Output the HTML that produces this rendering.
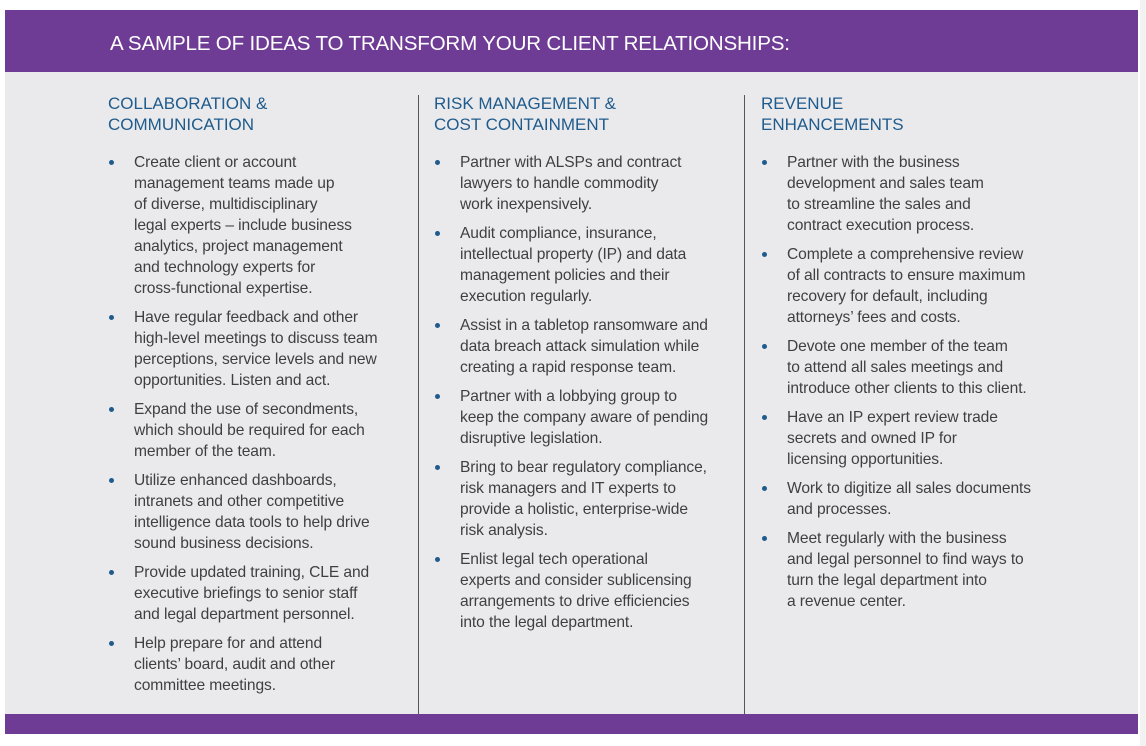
<!DOCTYPE html>
<html><head><meta charset="utf-8"><style>
*{margin:0;padding:0;box-sizing:border-box}
body{width:1146px;height:746px;background:#fff;position:relative;overflow:hidden;font-family:"Liberation Sans",sans-serif}
.hdr{position:absolute;left:5px;top:10px;width:1133px;height:62px;background:#6e3b95}
.hdr span{position:absolute;left:105px;top:22px;color:#fff;font-size:20.6px;letter-spacing:-0.2px}
.bodyb{position:absolute;left:5px;top:72px;width:1133px;height:642px;background:#eaeaec}
.foot{position:absolute;left:5px;top:714px;width:1133px;height:20px;background:#6e3b95}
.sb{position:absolute;left:1140px;top:0;width:6px;height:746px;background:#f2f2f2}
.div{position:absolute;top:95px;width:1px;height:619px;background:#555}
.col{position:absolute;top:93px;width:320px}
.col h2{font-weight:normal;color:#1f5b8c;font-size:17px;line-height:21px;margin-bottom:17px}
.col ul{list-style:none}
.col li{position:relative;padding-left:26px;font-size:15.6px;line-height:21px;color:#3f3f3f;margin-bottom:8px;letter-spacing:-0.1px}
.col li:before{content:"";position:absolute;left:1px;top:8px;width:5px;height:5px;border-radius:50%;background:#1f5b8c}
</style></head><body>
<div class="hdr"><span>A SAMPLE OF IDEAS TO TRANSFORM YOUR CLIENT RELATIONSHIPS:</span></div>
<div class="bodyb"></div>
<div class="foot"></div>
<div class="sb"></div>
<div class="div" style="left:418px"></div>
<div class="div" style="left:744px"></div>
<div class="col" style="left:108px">
<h2>COLLABORATION &amp;<br>COMMUNICATION</h2>
<ul>
<li>Create client or account<br>management teams made up<br>of diverse, multidisciplinary<br>legal experts – include business<br>analytics, project management<br>and technology experts for<br>cross-functional expertise.</li>
<li>Have regular feedback and other<br>high-level meetings to discuss team<br>perceptions, service levels and new<br>opportunities. Listen and act.</li>
<li>Expand the use of secondments,<br>which should be required for each<br>member of the team.</li>
<li>Utilize enhanced dashboards,<br>intranets and other competitive<br>intelligence data tools to help drive<br>sound business decisions.</li>
<li>Provide updated training, CLE and<br>executive briefings to senior staff<br>and legal department personnel.</li>
<li>Help prepare for and attend<br>clients’ board, audit and other<br>committee meetings.</li>
</ul></div>
<div class="col" style="left:434px">
<h2>RISK MANAGEMENT &amp;<br>COST CONTAINMENT</h2>
<ul>
<li>Partner with ALSPs and contract<br>lawyers to handle commodity<br>work inexpensively.</li>
<li>Audit compliance, insurance,<br>intellectual property (IP) and data<br>management policies and their<br>execution regularly.</li>
<li>Assist in a tabletop ransomware and<br>data breach attack simulation while<br>creating a rapid response team.</li>
<li>Partner with a lobbying group to<br>keep the company aware of pending<br>disruptive legislation.</li>
<li>Bring to bear regulatory compliance,<br>risk managers and IT experts to<br>provide a holistic, enterprise-wide<br>risk analysis.</li>
<li>Enlist legal tech operational<br>experts and consider sublicensing<br>arrangements to drive efficiencies<br>into the legal department.</li>
</ul></div>
<div class="col" style="left:761px">
<h2>REVENUE<br>ENHANCEMENTS</h2>
<ul>
<li>Partner with the business<br>development and sales team<br>to streamline the sales and<br>contract execution process.</li>
<li>Complete a comprehensive review<br>of all contracts to ensure maximum<br>recovery for default, including<br>attorneys’ fees and costs.</li>
<li>Devote one member of the team<br>to attend all sales meetings and<br>introduce other clients to this client.</li>
<li>Have an IP expert review trade<br>secrets and owned IP for<br>licensing opportunities.</li>
<li>Work to digitize all sales documents<br>and processes.</li>
<li>Meet regularly with the business<br>and legal personnel to find ways to<br>turn the legal department into<br>a revenue center.</li>
</ul></div>
</body></html>
